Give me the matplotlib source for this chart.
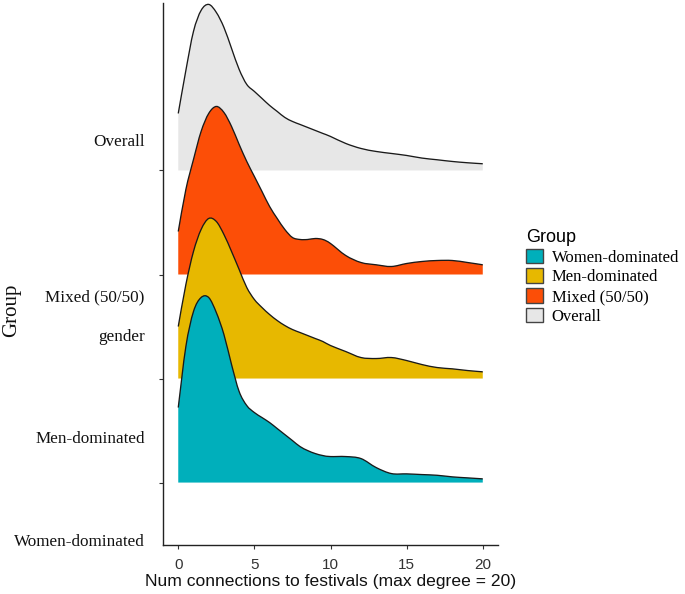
import matplotlib.pyplot as plt
from matplotlib.patches import Patch, PathPatch
from matplotlib.path import Path
import numpy as np

groups = ["Women-dominated", "Men-dominated", "Mixed (50/50)", "Overall"]
colors = ["#00AFBB", "#E7B800", "#FC4E07", "#E7E7E7"]

degree = [0, 0.5, 1, 1.5, 2, 2.5, 3, 3.5, 4, 4.5, 5, 5.5, 6, 6.5, 7, 7.5,
          8, 8.5, 9, 9.5, 10, 11, 12, 13, 14, 15, 16, 17, 18, 19, 20]

# ridge heights (scaled density)
dens_women = [75, 136, 171, 185, 185, 170, 148, 118, 91, 77, 70, 65, 60, 54, 48, 42,
              36, 32, 29, 27, 26, 26, 24, 15, 9, 8.7, 8, 7.3, 5.7, 4.7, 3.7]
dens_men = [52, 94, 127, 149, 160, 157, 144, 127, 109, 91, 79, 71, 64, 58, 53, 49,
            46, 43, 40, 37, 33, 27, 21, 20, 21, 18, 14, 11, 9.7, 8, 6.7]
dens_mixed = [43, 85, 115, 143, 161, 168, 162, 148, 130, 113, 98, 83, 68, 56, 45, 37,
              35, 35, 36, 35, 31, 19, 12, 9.7, 8, 11, 13, 14, 14, 12, 9.7]
dens_overall = [57, 100, 139, 160, 166, 158, 143, 122, 101, 86, 79, 72, 65, 59, 53, 49,
                46, 43, 40, 37, 34, 27, 22, 19, 17, 15, 12.4, 10.7, 9, 7.7, 6.7]

dens = [dens_women, dens_men, dens_mixed, dens_overall]
scale = 1 / 104


def smooth_path(px, py):
    # cubic bezier through the points (catmull-rom tangents)
    pts = np.column_stack([px, py])
    n = len(pts)
    verts = [pts[0]]
    codes = [Path.MOVETO]
    for i in range(n - 1):
        p0 = pts[max(i - 1, 0)]
        p1 = pts[i]
        p2 = pts[i + 1]
        p3 = pts[min(i + 2, n - 1)]
        c1 = p1 + (p2 - p0) / 6
        c2 = p2 - (p3 - p1) / 6
        verts += [c1, c2, p2]
        codes += [Path.CURVE4] * 3
    return verts, codes


fig = plt.figure(figsize=(6.85, 5.94), dpi=100)
ax = fig.add_axes([0.238, 0.0825, 0.489, 0.9125])

x = np.array(degree, dtype=float)
# draw from the top ridge down so lower ridges sit in front
for i in reversed(range(len(groups))):
    base = i + 1
    y = base + np.array(dens[i]) * scale
    z = 10 - i
    verts, codes = smooth_path(x, y)
    fill_verts = [(x[0], base)] + verts + [(x[-1], base), (x[0], base)]
    fill_codes = [Path.MOVETO, Path.LINETO] + codes[1:] + [Path.LINETO, Path.CLOSEPOLY]
    ax.add_patch(PathPatch(Path(fill_verts, fill_codes), facecolor=colors[i],
                           edgecolor="none", zorder=z))
    ax.add_patch(PathPatch(Path(verts, codes), fill=False, edgecolor="#1a1a1a",
                           lw=0.95, zorder=z + 0.5))

ax.set_xlim(-1, 21)
ax.set_ylim(0.40, 5.61)
ax.set_xticks([0, 5, 10, 15, 20])
ax.set_yticks([1, 2, 3, 4])
ax.set_yticklabels([])
for s in ["top", "right"]:
    ax.spines[s].set_visible(False)
for s in ["left", "bottom"]:
    ax.spines[s].set_linewidth(1.0)
    ax.spines[s].set_color("#222222")
ax.tick_params(axis="both", direction="out", length=3, width=0.8, color="#333333")
ax.tick_params(axis="x", labelsize=11, labelcolor="#333333", pad=6.5)
for t in ax.get_xticklabels():
    t.set_family("Liberation Sans")

# group labels (placed as in the source figure)
serif = "Liberation Serif"
ylabel_pos = [("Overall", 4.27), ("Mixed (50/50)", 2.78), ("gender", 2.40),
              ("Men-dominated", 1.42), ("Women-dominated", 0.43)]
tr = ax.get_yaxis_transform()
for txt, yy in ylabel_pos:
    ax.text(-0.055, yy, txt, transform=tr, ha="right", va="center",
            family=serif, fontsize=12.3, color="#111111", clip_on=False)

ax.set_xlabel("Num connections to festivals (max degree = 20)",
              family="Liberation Sans", fontsize=12.6, color="#111111", labelpad=1)
fig.text(12 / 685, 1 - 310 / 594, "Group", rotation=90, ha="center", va="center",
         family=serif, fontsize=15, color="#111111")

handles = [Patch(facecolor=c, edgecolor="#444444", linewidth=1.0) for c in colors]
leg = fig.legend(handles, groups, loc="upper left", bbox_to_anchor=(526 / 685, 1 - 229 / 594),
                 frameon=False, prop={"family": serif, "size": 12},
                 handlelength=1.0, handleheight=1.0, handletextpad=0.55,
                 labelspacing=0.15, borderpad=0, borderaxespad=0,
                 title="Group", title_fontproperties={"family": "Liberation Sans", "size": 13},
                 alignment="left")

plt.savefig("out.png", dpi=100)
